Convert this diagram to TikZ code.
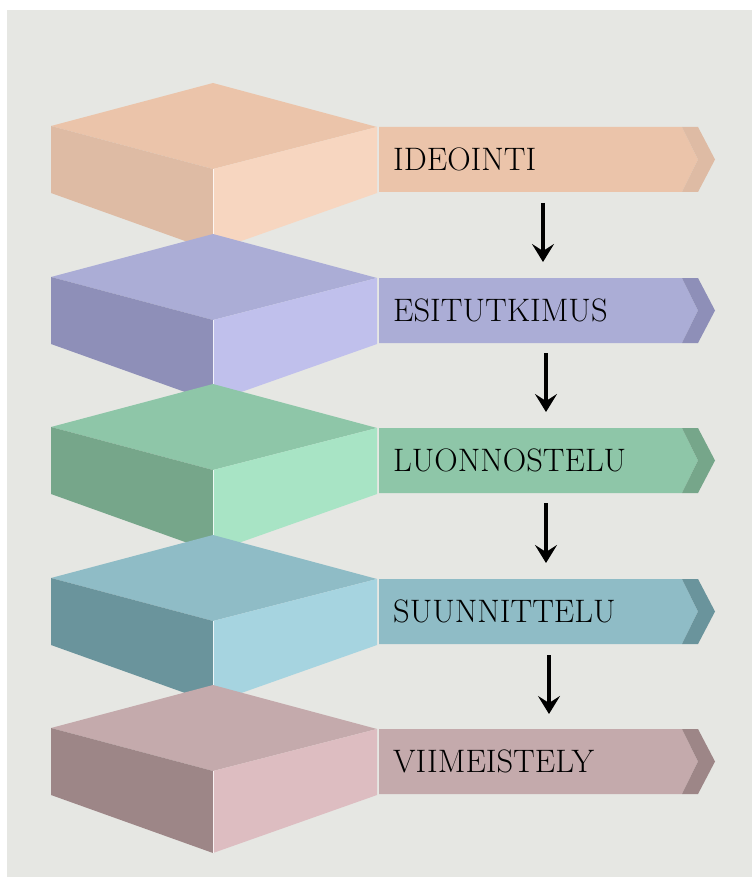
\documentclass[tikz,border=0pt]{standalone}
\usetikzlibrary{arrows.meta}
\definecolor{bg}{HTML}{E6E7E3}
\definecolor{aT}{HTML}{EBC4AA}\definecolor{aL}{HTML}{DEBBA4}\definecolor{aR}{HTML}{F7D6C0}
\definecolor{bT}{HTML}{ABADD6}\definecolor{bL}{HTML}{8E8FB8}\definecolor{bR}{HTML}{C0C0EC}
\definecolor{cT}{HTML}{8EC6A8}\definecolor{cL}{HTML}{76A68A}\definecolor{cR}{HTML}{A8E4C5}
\definecolor{dT}{HTML}{8FBCC6}\definecolor{dL}{HTML}{6A949C}\definecolor{dR}{HTML}{A6D4E0}
\definecolor{eT}{HTML}{C4AAAC}\definecolor{eL}{HTML}{9D8687}\definecolor{eR}{HTML}{DDBDC1}
\tikzset{
  flow/.style={line width=4pt,-{Stealth[length=18pt,width=22pt,inset=7pt]}},
  stagelabel/.style={anchor=west,inner sep=0pt,font=\fontsize{32.5}{38}\selectfont},
  edgeline/.style={white,opacity=0.8,line width=0.9pt}
}
\newcommand\stagebox[6]{%
  \fill[#4] (213,#1) -- (377,#1+44) -- (213,#1+86) -- (51,#1+43) -- cycle;
  \fill[#5] (51,#1+43) -- (213,#1+86) -- (213,#1+168) -- (51,#1+110) -- cycle;
  \fill[#6] (213,#1+86) -- (377,#1+44) -- (377,#1+110) -- (213,#1+168) -- cycle;
  \draw[edgeline] (213,#1+86) -- (213,#1+168);
  \fill[#4] (379,#1+44) -- (682,#1+44) -- (698,#1+76.5) -- (682,#1+109) -- (379,#1+109) -- cycle;
  \fill[#5] (682,#1+44) -- (698,#1+44) -- (715,#1+76.5) -- (698,#1+109) -- (682,#1+109) -- (698,#1+76.5) -- cycle;
  \node[stagelabel] (#2) at (393,#1+76.5) {#3};
}
\begin{document}
\begin{tikzpicture}[x=1pt,y=-1pt]
  \fill[white] (0,0) rectangle (752,877);
  \fill[bg] (7,10) rectangle (752,877);
  \useasboundingbox (0,0) rectangle (752,877);
  \stagebox{83}{s1}{IDEOINTI}{aT}{aL}{aR}
  \stagebox{234}{s2}{ESITUTKIMUS}{bT}{bL}{bR}
  \stagebox{384}{s3}{LUONNOSTELU}{cT}{cL}{cR}
  \stagebox{535}{s4}{SUUNNITTELU}{dT}{dL}{dR}
  \stagebox{685}{s5}{VIIMEISTELY}{eT}{eL}{eR}
  \coordinate (a1s) at (543,203); \coordinate (a1e) at (543,262);
  \coordinate (a2s) at (546,353); \coordinate (a2e) at (546,412);
  \coordinate (a3s) at (546,503); \coordinate (a3e) at (546,563);
  \coordinate (a4s) at (549,655); \coordinate (a4e) at (549,714);
  \draw[flow] (a1s) -- (a1e);
  \draw[flow] (a2s) -- (a2e);
  \draw[flow] (a3s) -- (a3e);
  \draw[flow] (a4s) -- (a4e);
\end{tikzpicture}
\end{document}
